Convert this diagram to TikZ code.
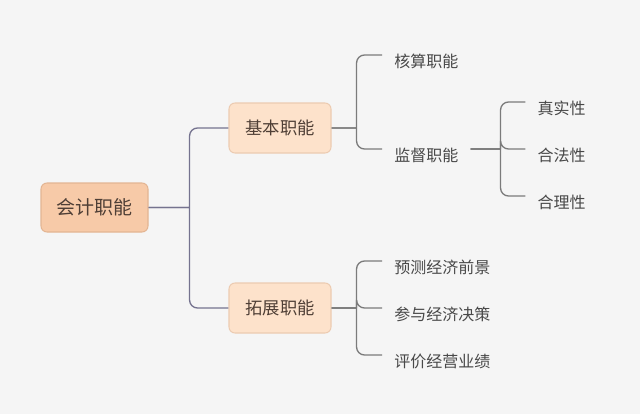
\documentclass[tikz,border=0pt]{standalone}
\usepackage{fontspec}
\newfontfamily\cjk{Noto Sans CJK SC}
\usetikzlibrary{trees}

\definecolor{bgcol}{HTML}{F5F5F5}
\definecolor{rootfill}{HTML}{F7CAA8}
\definecolor{rootline}{HTML}{E3B593}
\definecolor{midfill}{HTML}{FDE2CB}
\definecolor{midline}{HTML}{ECCBB1}
\definecolor{lineA}{HTML}{75738F}
\definecolor{lineB}{HTML}{7B7B7B}
\definecolor{boxtext}{HTML}{4F3F36}
\definecolor{leaftext}{HTML}{484848}

\tikzset{
  rootbox/.style={fill=rootfill, draw=rootline, line width=0.8pt, rounded corners=4.5pt,
    minimum width=80.25pt, minimum height=36.75pt, text=boxtext,
    font=\cjk\fontsize{14.25}{16}\selectfont},
  midbox/.style={fill=midfill, draw=midline, line width=0.8pt, rounded corners=4.5pt,
    minimum width=76.5pt, minimum height=37.5pt, text=boxtext,
    font=\cjk\fontsize{13}{15}\selectfont},
  leafbox/.style={anchor=west, inner xsep=9pt, text=leaftext,
    font=\cjk\fontsize{12}{14}\selectfont},
}

\begin{document}
\begin{tikzpicture}[x=0.75pt, y=-0.75pt, grow via three points={one child at (185.5,-79.5) and two children at (185.5,-79.5) and (185.5,100.5)},
  level 1/.style={edge from parent/.style={draw=lineA, line width=1pt, rounded corners=6pt},
    edge from parent path={(\tikzparentnode.east) -- ++(41,0) ++(0,0) |- (\tikzchildnode.west)}},
  level 2/.style={edge from parent/.style={draw=lineB, line width=1pt, rounded corners=6pt},
    edge from parent path={(\tikzparentnode.east) -- ++(25,0) ++(0,0) |- ([yshift=4.5pt]\tikzchildnode.west)}},
  level 3/.style={edge from parent/.style={draw=lineB, line width=1pt, rounded corners=6pt},
    edge from parent path={([yshift=4.5pt]\tikzparentnode.east) -- ++(30,0) ++(0,0) |- ([yshift=4.5pt]\tikzchildnode.west)}}]
\fill[bgcol] (0,0) rectangle (640,414);
\node[rootbox] (acct) at (94.5,207.5) {会计职能}
    child { node[midbox] (basic) {基本职能}
        [grow via three points={one child at (102,-67) and two children at (102,-67) and (102,27)}]
        child { node[leafbox] (calc) {核算职能} }
        child { node[leafbox] (super) {监督职能}
            [grow via three points={one child at (99,-47) and two children at (99,-47) and (99,0)}]
            child { node[leafbox] (real) {真实性} }
            child { node[leafbox] (legal) {合法性} }
            child { node[leafbox] (reason) {合理性} }
        }
    }
    child { node[midbox] (ext) {拓展职能}
        [grow via three points={one child at (102,-41) and two children at (102,-41) and (102,6)}]
        child { node[leafbox] (pred) {预测经济前景} }
        child { node[leafbox] (decide) {参与经济决策} }
        child { node[leafbox] (eval) {评价经营业绩} }
    }
;
\end{tikzpicture}
\end{document}
